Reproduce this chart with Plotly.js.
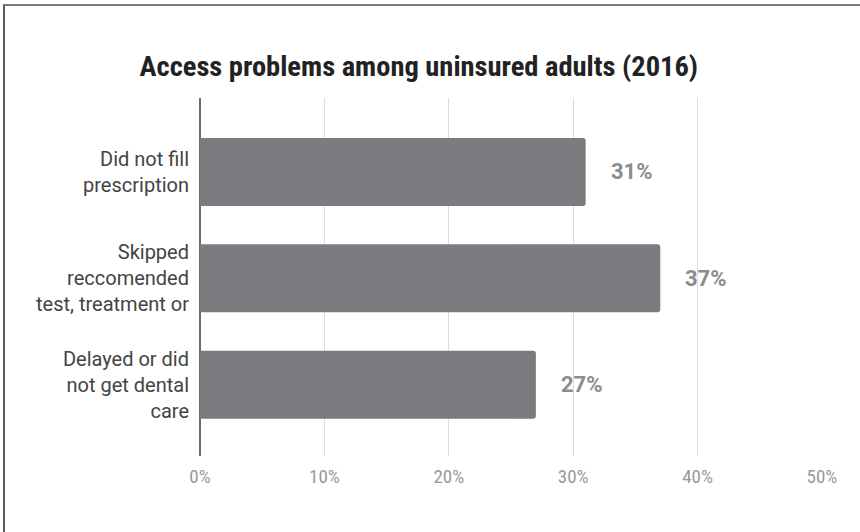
<!DOCTYPE html>
<html>
<head>
<meta charset="utf-8">
<script src="https://cdn.plot.ly/plotly-3.0.1.min.js"></script>
<style>
  html, body { margin: 0; padding: 0; background: #fff; }
  #wrap { position: relative; width: 860px; height: 532px; overflow: hidden; }
  #chart { width: 860px; height: 532px; }
  #frame { position: absolute; left: 3px; top: 4px; width: 900px; height: 600px;
           border-top: 2px solid #7a7a7a; border-left: 2px solid #5a5a5a; pointer-events: none; }
</style>
</head>
<body>
<div id="wrap">
  <div id="chart"></div>
  <div id="frame"></div>
</div>
<script>
const categories = [
  "Did not fill<br>prescription",
  "Skipped<br>reccomended<br>test, treatment or",
  "Delayed or did<br>not get dental<br>care"
];
const values = [0.31, 0.37, 0.27];
const tickValues = [0, 0.1, 0.2, 0.3, 0.4, 0.5];
const tickLabels = ["0%", "10%", "20%", "30%", "40%", "50%"];
const chartTitle = "Access problems among uninsured adults (2016)";

const labels = values.map(v => Math.round(v * 100) + "%");

const trace = {
  type: "bar",
  orientation: "h",
  y: categories,
  x: values,
  marker: { color: "#7b7c80" },
  hoverinfo: "none"
};

const annotations = values.map((v, i) => ({
  x: v, y: categories[i], xref: "x", yref: "y",
  text: labels[i], showarrow: false,
  xanchor: "left", yanchor: "middle", xshift: 23,
  font: { family: "Roboto, sans-serif", size: 22, color: "#8c8c8c", weight: 700 }
}));

const layout = {
  width: 860, height: 532,
  margin: { l: 200, r: 38, t: 98, b: 76 },
  paper_bgcolor: "#fff", plot_bgcolor: "#fff",
  showlegend: false,
  bargap: 0.36,
  barcornerradius: 3,
  title: {
    text: chartTitle,
    x: 0.487, xanchor: "center",
    y: 0.857, yanchor: "bottom", yref: "container",
    font: { family: "'Liberation Sans Narrow', 'Arial Narrow', 'Roboto Condensed', 'Liberation Sans', sans-serif", size: 28.5, color: "#222", weight: 700 }
  },
  xaxis: {
    range: [0, 0.5],
    tickvals: tickValues, ticktext: tickLabels,
    showgrid: true, gridcolor: "#dcdcdc", gridwidth: 1,
    zeroline: true, zerolinecolor: "#6a6a6a", zerolinewidth: 1.5,
    showline: false, ticks: "", fixedrange: true,
    ticklabelstandoff: 7,
    tickfont: { family: "'Liberation Sans Narrow', 'Arial Narrow', 'Roboto Condensed', Roboto, sans-serif", size: 19, color: "#999" }
  },
  yaxis: {
    type: "category",
    categoryorder: "array", categoryarray: categories,
    range: [2.67, -0.695],
    showgrid: false, zeroline: false, showline: false, ticks: "",
    ticklabelstandoff: 10,
    tickfont: { family: "Roboto, sans-serif", size: 20, color: "#444" },
    fixedrange: true
  },
  annotations: annotations
};

Plotly.newPlot("chart", [trace], layout, { displayModeBar: false, staticPlot: true });
</script>
</body>
</html>
